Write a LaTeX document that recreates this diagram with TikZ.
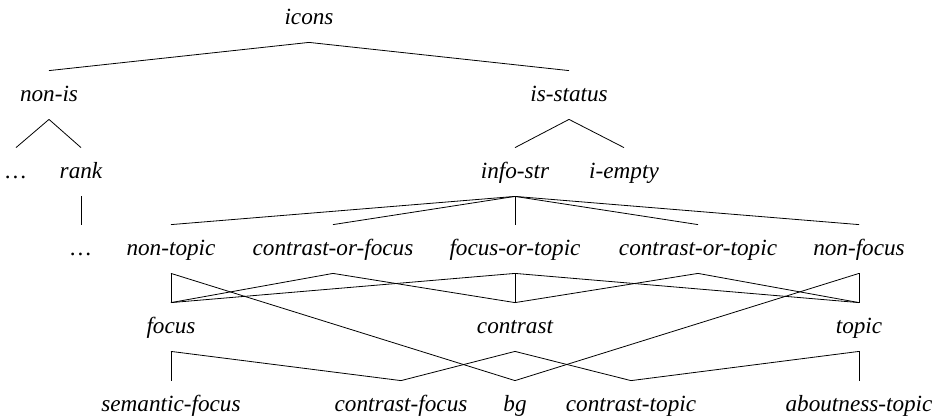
\documentclass[tikz,border=0pt]{standalone}
\usepackage{fontspec}
\setmainfont{Liberation Serif}

\begin{document}
\begin{tikzpicture}[x=0.5pt,y=-0.5pt]
\useasboundingbox (0,0) rectangle (940,418);
\tikzset{typ/.style={anchor=base,inner sep=0pt,text height=15pt,text depth=9pt,font=\itshape\fontsize{11.6}{13}\selectfont}}

% rows (baselines)
\node[typ] (icons) at (309,24) {icons};

\node[typ] (nonis) at (49,101) {non-is};
\node[typ] (isstatus) at (569,101) {is-status};

\node[typ] (dotsA) at (16,178) {\dots};
\node[typ] (rank) at (81,178) {rank};
\node[typ] (infostr) at (515,178) {info-str};
\node[typ] (iempty) at (624,178) {i-empty};

\node[typ] (dotsB) at (81,255) {\dots};
\node[typ] (nontopic) at (171,255) {non-topic};
\node[typ] (cof) at (333,255) {contrast-or-focus};
\node[typ] (fot) at (515,255) {focus-or-topic};
\node[typ] (cot) at (698,255) {contrast-or-topic};
\node[typ] (nonfocus) at (859,255) {non-focus};

\node[typ] (focus) at (171,333) {focus};
\node[typ] (contrast) at (515,333) {contrast};
\node[typ] (topic) at (859,333) {topic};

\node[typ] (semfocus) at (171,411) {semantic-focus};
\node[typ] (cfocus) at (401,411) {contrast-focus};
\node[typ] (bg) at (515,411) {bg};
\node[typ] (ctopic) at (631,411) {contrast-topic};
\node[typ] (atopic) at (859,411) {aboutness-topic};

% upper tree
\draw[-] (icons.south) to (nonis.north);
\draw[-] (icons.south) to (isstatus.north);
\draw[-] (nonis.south) to (dotsA.north);
\draw[-] (nonis.south) to (rank.north);
\draw[-] (isstatus.south) to (infostr.north);
\draw[-] (isstatus.south) to (iempty.north);
\draw[-] (rank.south) to (dotsB.north);

\draw[-] (infostr.south) to (nontopic.north);
\draw[-] (infostr.south) to (cof.north);
\draw[-] (infostr.south) to (fot.north);
\draw[-] (infostr.south) to (cot.north);
\draw[-] (infostr.south) to (nonfocus.north);

% lattice
\draw[-] (nontopic.south) to (focus.north);
\draw[-] (nontopic.south) to (bg.north);
\draw[-] (cof.south) to (focus.north);
\draw[-] (cof.south) to (contrast.north);
\draw[-] (fot.south) to (focus.north);
\draw[-] (fot.south) to (contrast.north);
\draw[-] (fot.south) to (topic.north);
\draw[-] (cot.south) to (contrast.north);
\draw[-] (cot.south) to (topic.north);
\draw[-] (nonfocus.south) to (topic.north);
\draw[-] (nonfocus.south) to (bg.north);

\draw[-] (focus.south) to (semfocus.north);
\draw[-] (focus.south) to (cfocus.north);
\draw[-] (contrast.south) to (cfocus.north);
\draw[-] (contrast.south) to (ctopic.north);
\draw[-] (topic.south) to (ctopic.north);
\draw[-] (topic.south) to (atopic.north);

\end{tikzpicture}
\end{document}
